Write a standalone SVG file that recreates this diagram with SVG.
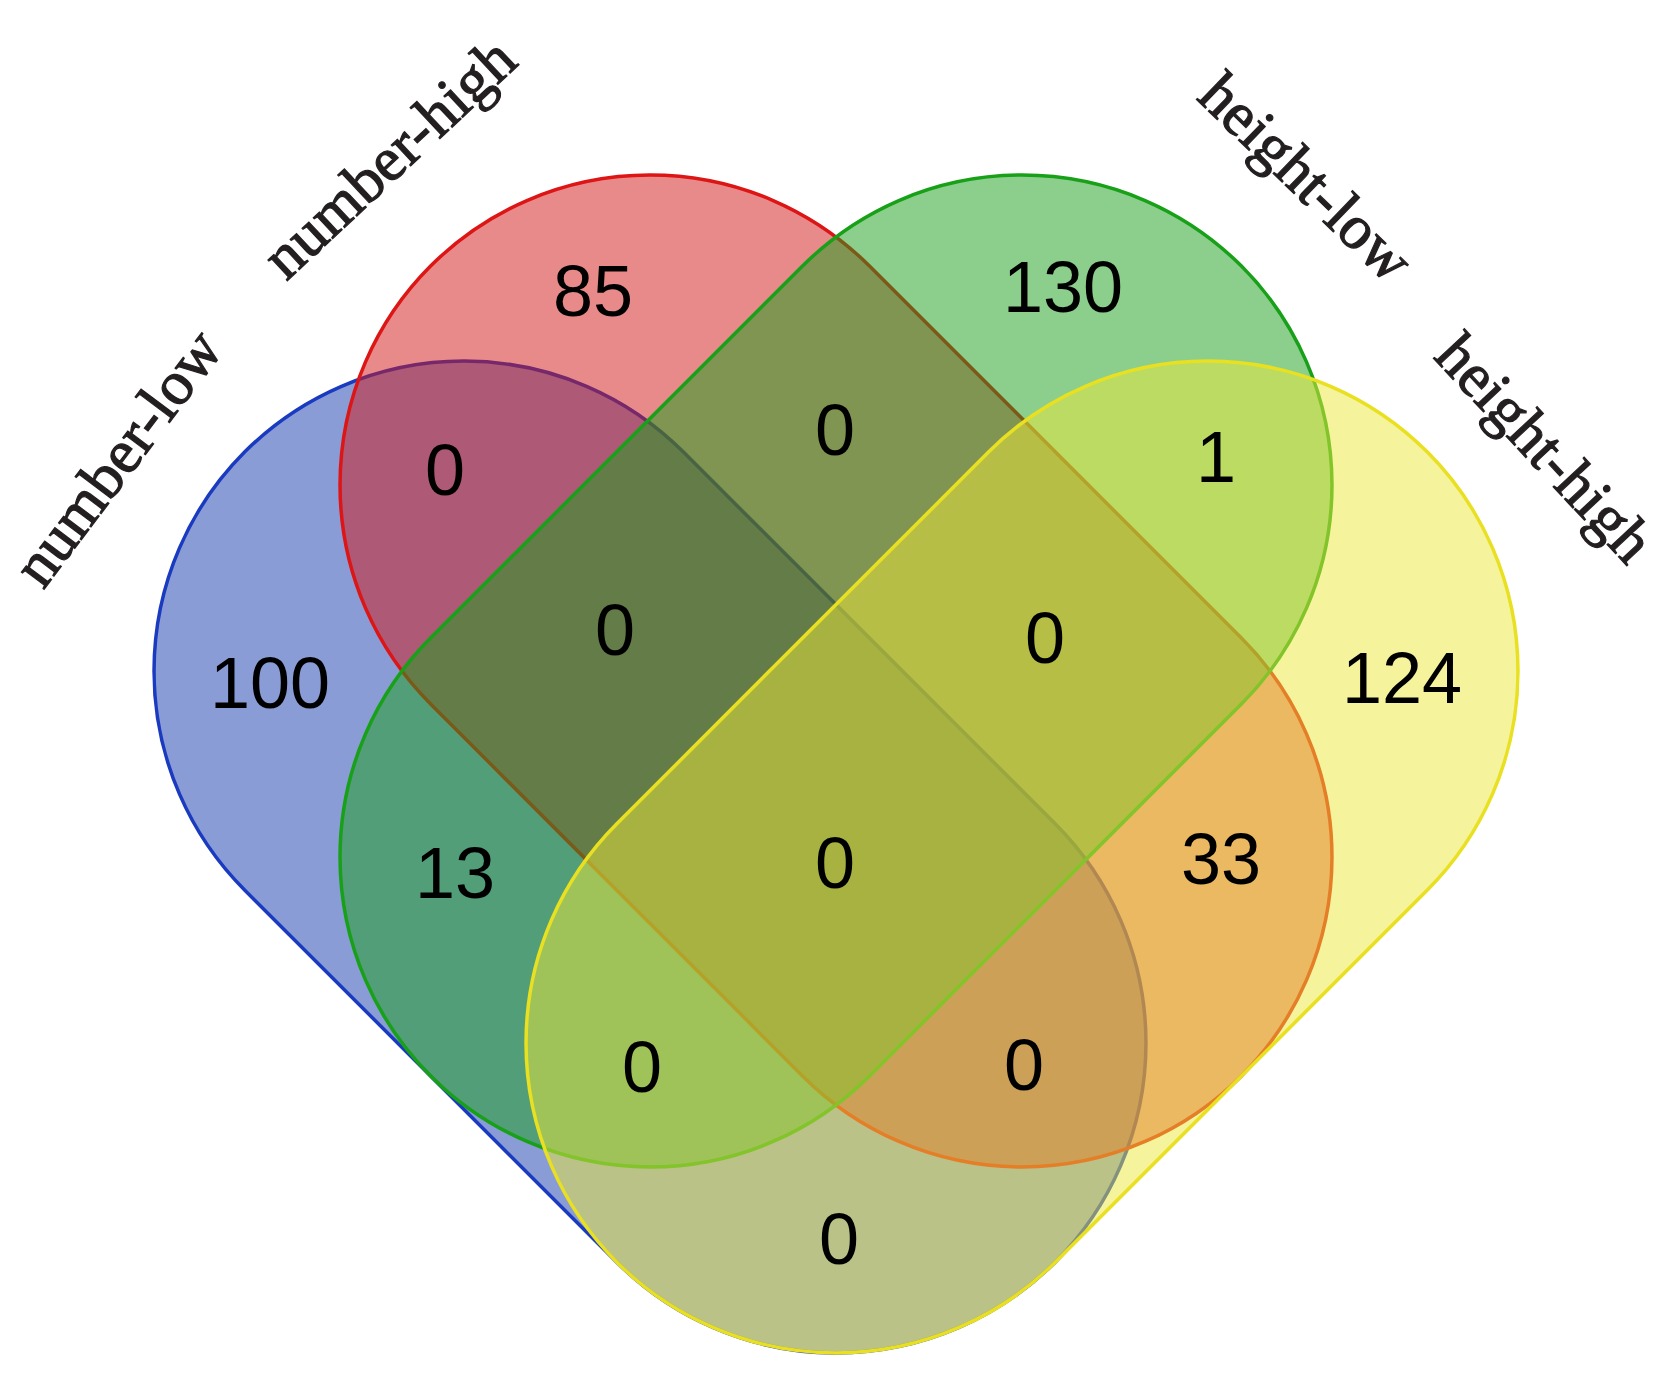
<svg xmlns="http://www.w3.org/2000/svg" width="1672" height="1379" viewBox="0 0 1672 1379">
  <style>
    .set { stroke-width: 3.5; }
    .num { font-family: "Liberation Sans", Arial, sans-serif; font-size: 72px; fill: #000; text-anchor: middle; }
    .lbl { font-family: "Liberation Serif", "Times New Roman", serif; font-size: 62px; fill: #231f20; stroke: #231f20; stroke-width: 1.2; text-anchor: middle; }
  </style>
  <defs>
    <rect id="capsule" x="-573" y="-310" width="1146" height="620" rx="310" ry="310"/>
  </defs>
  <rect width="1672" height="1379" fill="#ffffff"/>

  <g id="set-number-low">
    <use href="#capsule" class="set" transform="translate(650,857) rotate(45)" fill="#1539ad" fill-opacity="0.5" stroke="#1a3bc0"/>
    <text class="lbl" transform="translate(134,470) rotate(-53)">number-low</text>
  </g>
  <g id="set-number-high">
    <use href="#capsule" class="set" transform="translate(836,671) rotate(45)" fill="#d11515" fill-opacity="0.5" stroke="#dd1515"/>
    <text class="lbl" transform="translate(403,173) rotate(-43)">number-high</text>
  </g>
  <g id="set-height-low">
    <use href="#capsule" class="set" transform="translate(836,671) rotate(-45)" fill="#199f19" fill-opacity="0.5" stroke="#18a018"/>
    <text class="lbl" transform="translate(1292,192) rotate(44)">height-low</text>
  </g>
  <g id="set-height-high">
    <use href="#capsule" class="set" transform="translate(1022,857) rotate(-45)" fill="#ebe739" fill-opacity="0.5" stroke="#e8e020"/>
    <text class="lbl" transform="translate(1530,462) rotate(47)">height-high</text>
  </g>

  <g id="region-counts">
    <text class="num" x="593" y="316">85</text>
    <text class="num" x="1063" y="312">130</text>
    <text class="num" x="445" y="495">0</text>
    <text class="num" x="835" y="455">0</text>
    <text class="num" x="1216" y="482">1</text>
    <text class="num" x="270" y="708">100</text>
    <text class="num" x="615" y="655">0</text>
    <text class="num" x="1045" y="663">0</text>
    <text class="num" x="1402" y="703">124</text>
    <text class="num" x="455" y="898">13</text>
    <text class="num" x="835" y="888">0</text>
    <text class="num" x="1221" y="884">33</text>
    <text class="num" x="642" y="1092">0</text>
    <text class="num" x="1024" y="1090">0</text>
    <text class="num" x="839" y="1264">0</text>
  </g>
</svg>
